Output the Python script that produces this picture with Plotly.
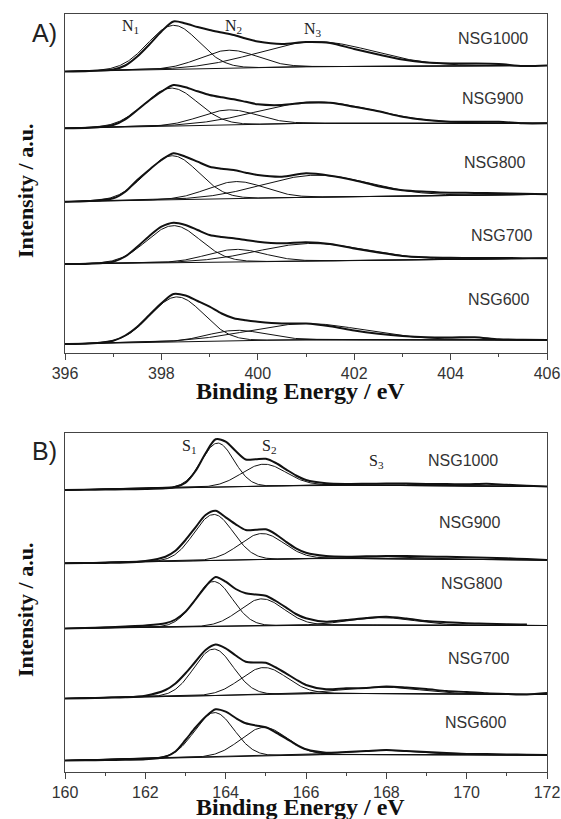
import numpy as np
import plotly.graph_objects as go

# ---------------- data ----------------
samples = ["NSG1000", "NSG900", "NSG800", "NSG700", "NSG600"]

# Panel A: N 1s spectra (intensity in a.u., relative to each spectrum's own zero)
energy_n = [396, 396.5, 397, 397.25, 397.5, 397.75, 398, 398.25, 398.5, 398.75, 399,
            399.25, 399.5, 399.75, 400, 400.5, 401, 401.5, 402, 402.5, 403, 403.5,
            404, 404.5, 405, 405.5, 406]
n_nsg1000 = [0, 0.5, 2, 6, 15, 27, 40, 50, 48, 44.5, 41.5, 39, 36.5, 33, 30, 27.5, 29.5,
             28.5, 22.5, 17, 12, 9, 8, 8, 7.5, 5.5, 6]
n_nsg900 = [0, 0.5, 3.3, 9, 18.3, 28, 36.6, 43.3, 41, 37, 33.3, 31, 29, 26.5, 24, 23.3,
            25.6, 25.5, 21.5, 17, 11.5, 8.3, 6.6, 6.5, 6.5, 5, 5]
n_nsg800 = [0, 0.8, 3.4, 10, 21.7, 32, 41.7, 48.4, 45, 40, 35, 33, 31.7, 29, 26.7, 25,
            28.4, 26, 21.5, 15.5, 11.5, 10, 9, 8.8, 8.4, 8, 7.4]
n_nsg700 = [0, 0.3, 2.3, 7.5, 17.3, 28, 37.3, 41.3, 39, 34, 29, 27, 25.7, 24, 22.3, 20.7,
            21.7, 20, 15.5, 11.5, 8, 6.7, 6.2, 6, 6, 5.8, 5.7]
n_nsg600 = [0, 0.4, 3.3, 8.5, 17.3, 29, 40.7, 50, 48.5, 43, 37.3, 30.5, 25.7, 23.7, 22.3,
            20.5, 20.5, 17.8, 13.5, 10.3, 8, 6.7, 6.5, 6.8, 4.7, 4.3, 4]
n_spectra = [n_nsg1000, n_nsg900, n_nsg800, n_nsg700, n_nsg600]
n_stack = [281.5, 224.7, 151.3, 89, 9]          # vertical stacking offsets

# fitted background (at 396, 401, 406 eV)
n_bg_energy = [396, 401, 406]
n_bg = [[0, 4.8, 6], [0, 5, 5], [0, 4.4, 7.4], [0, 3, 5.7], [0, 4.5, 4]]

# fitted components: centre (eV), height, FWHM  (N1, N2, N3)
n1_center = [398.25, 398.2, 398.22, 398.25, 398.32]
n1_height = [44, 38, 44, 37, 45]
n1_fwhm = [1.25, 1.3, 1.3, 1.3, 1.3]
n2_center = [399.4, 399.4, 399.55, 399.55, 399.55]
n2_height = [18, 15, 17, 12.5, 10.5]
n2_fwhm = [1.4, 1.4, 1.4, 1.4, 1.4]
n3_center = [401.2, 401.2, 401.2, 401.1, 401.0]
n3_height = [25, 21.5, 22, 17.5, 16]
n3_fwhm = [2.8, 2.8, 2.6, 2.6, 2.8]

# Panel B: S 2p spectra
energy_s = [160, 160.5, 161, 161.5, 162, 162.5, 162.75, 163, 163.25, 163.5, 163.75, 164,
            164.25, 164.5, 164.75, 165, 165.25, 165.5, 165.75, 166, 166.5, 167, 167.5,
            168, 168.5, 169, 169.5, 170, 170.5, 171, 171.5, 172]
s_nsg1000 = [0, 0.2, 0.4, 0.7, 1, 1.7, 3, 7.3, 19, 36.7, 50.7, 48.3, 39, 30.5, 30.8, 31.2,
             27, 20.7, 14.5, 10, 6.7, 6, 6.2, 6.5, 6.5, 6, 6, 5.7, 6.2, 5.2, 4.3, 3.5]
s_nsg900 = [0, 0.2, 0.4, 0.7, 2.3, 6.6, 12.5, 23.3, 36, 48.3, 52.5, 46, 39, 33.3, 33.5, 34,
            29, 21.6, 15, 10.6, 7.3, 6.6, 7, 7.3, 7.3, 6.8, 6.5, 6, 5.5, 5, 4.2, 3.3]
s_nsg800 = [0, 0.5, 1.2, 2, 3, 5.2, 9, 16.8, 29, 42, 51.5, 46.8, 39.5, 35.2, 34, 32.8,
            27.5, 21.2, 14.5, 10.2, 6.8, 8.5, 10.5, 11.8, 10, 7.5, 6.2, 5.2, 4.8, 4.2, 4,
            None]
s_nsg700 = [0, 0.3, 0.8, 1.2, 2.8, 8.5, 15, 25.2, 37, 48.5, 54, 50.2, 43, 36.8, 36, 35.8,
            31, 25.2, 19, 13.5, 9.2, 10.2, 10.5, 12, 11, 9.5, 7.5, 6.5, 5.2, 4.5, 4, 5.5]
s_nsg600 = [0, 0.2, 0.4, 0.7, 1.2, 3.8, 9, 20.5, 33, 43.8, 51.2, 48.8, 42.5, 37.2, 35, 33.2,
            28, 22.2, 16, 11.2, 7.8, 8.5, 9.5, 10.5, 9.5, 8.5, 7.5, 6.5, 6.5, 6, 5.8, 5.5]
s_spectra = [s_nsg1000, s_nsg900, s_nsg800, s_nsg700, s_nsg600]
s_stack = [282, 208.7, 143.5, 73.5, 11.5]

s_bg_energy = [160, 166.5, 172]
s_bg = [[0, 5, 3.5], [0, 5, 3.3], [0, 3.5, 3], [0, 5.2, 4], [0, 6, 5.5]]

s1_center = [163.8, 163.7, 163.7, 163.7, 163.72]
s1_height = [44, 46, 45, 46.5, 44.5]
s1_fwhm = [0.95, 1.15, 1.1, 1.15, 1.15]
s2_center = [164.95, 164.9, 164.9, 164.95, 164.95]
s2_height = [22, 26, 27, 27, 28.5]
s2_fwhm = [1.3, 1.3, 1.3, 1.35, 1.35]
s3_center = [168.0, 168.0, 167.9, 167.9, 167.9]
s3_height = [1.5, 2, 7.5, 6.5, 4.5]
s3_fwhm = [2.0, 2.0, 1.9, 2.2, 2.0]

n_ticks = [396, 398, 400, 402, 404, 406]
s_ticks = [160, 162, 164, 166, 168, 170, 172]

# ---------------- figure ----------------
W, H = 561, 819
L, R = 65, 547
A_TOP, A_BOT = 14, 353
B_TOP, B_BOT = 432.7, 772


def py(p):
    return 1 - p / H


def px(p):
    return (p - L) / (R - L)


INK = "#111111"
fig = go.Figure()


def peak(x, c, h, w):
    return h * np.exp(-4 * np.log(2) * (x - c) ** 2 / w ** 2)


def add_panel(xa, ya, energy, spectra, stack, bg_e, bg, comps, lo, hi):
    xf = np.linspace(lo, hi, 601)
    for i in range(len(samples)):
        off = stack[i]
        base = np.interp(xf, bg_e, bg[i])
        # background
        fig.add_trace(go.Scatter(x=bg_e, y=[off + v for v in bg[i]], mode="lines",
                                 line=dict(color=INK, width=1.0), xaxis=xa, yaxis=ya,
                                 hoverinfo="skip", showlegend=False))
        # fitted components
        for (cen, hgt, fw) in comps:
            yc = off + base + peak(xf, cen[i], hgt[i], fw[i])
            fig.add_trace(go.Scatter(x=xf, y=yc, mode="lines",
                                     line=dict(color=INK, width=1.0), xaxis=xa, yaxis=ya,
                                     hoverinfo="skip", showlegend=False))
        # measured spectrum
        yd = [None if v is None else off + v for v in spectra[i]]
        fig.add_trace(go.Scatter(x=energy, y=yd, mode="lines",
                                 line=dict(color=INK, width=2.0, shape="spline",
                                           smoothing=0.8),
                                 xaxis=xa, yaxis=ya, name=samples[i],
                                 showlegend=False, connectgaps=False))


add_panel("x", "y", energy_n, n_spectra, n_stack, n_bg_energy, n_bg,
          [(n1_center, n1_height, n1_fwhm), (n2_center, n2_height, n2_fwhm),
           (n3_center, n3_height, n3_fwhm)], 396, 406)
add_panel("x2", "y2", energy_s, s_spectra, s_stack, s_bg_energy, s_bg,
          [(s1_center, s1_height, s1_fwhm), (s2_center, s2_height, s2_fwhm),
           (s3_center, s3_height, s3_fwhm)], 160, 172)

frame = dict(showline=True, mirror=True, linecolor="#444444", linewidth=1.3,
             showgrid=False, zeroline=False)
xcommon = dict(frame, ticks="outside", ticklen=6, tickwidth=1.2, tickcolor="#444444",
               tickfont=dict(family="Liberation Sans, Arial", size=16, color="#333333"),
               minor=dict(dtick=1, ticks="outside", ticklen=3, tickwidth=1.1,
                          tickcolor="#444444"))
ycommon = dict(frame, showticklabels=False, ticks="")

fig.update_layout(
    width=W, height=H, margin=dict(l=L, r=W - R, t=0, b=0),
    paper_bgcolor="white", plot_bgcolor="white", showlegend=False,
    xaxis=dict(xcommon, domain=[0, 1], anchor="y", range=[396, 406],
               tickvals=n_ticks, ticktext=[str(t) for t in n_ticks]),
    yaxis=dict(ycommon, domain=[py(A_BOT), py(A_TOP)], anchor="x",
               range=[0, A_BOT - A_TOP]),
    xaxis2=dict(xcommon, domain=[0, 1], anchor="y2", range=[160, 172],
                tickvals=s_ticks, ticktext=[str(t) for t in s_ticks]),
    yaxis2=dict(ycommon, domain=[py(B_BOT), py(B_TOP)], anchor="x2",
                range=[0, B_BOT - B_TOP]),
)

ann = []
serif = "Liberation Serif, Times New Roman"
sans = "Liberation Sans, Arial"

# axis titles
for yc in (391, 807):
    ann.append(dict(text="<b>Binding Energy / eV</b>", xref="paper", yref="paper",
                    x=px(300), y=py(yc), showarrow=False, xanchor="center",
                    yanchor="middle", font=dict(family=serif, size=24, color="#111")))
for yc in (191, 610):
    ann.append(dict(text="<b>Intensity / a.u.</b>", xref="paper", yref="paper",
                    x=px(25), y=py(yc), showarrow=False, textangle=-90,
                    xanchor="center", yanchor="middle",
                    font=dict(family=serif, size=22, color="#111")))
# panel letters
ann.append(dict(text="A)", xref="paper", yref="paper", x=px(44), y=py(33),
                showarrow=False, xanchor="center", yanchor="middle",
                font=dict(family=sans, size=25, color="#222")))
ann.append(dict(text="B)", xref="paper", yref="paper", x=px(44), y=py(451),
                showarrow=False, xanchor="center", yanchor="middle",
                font=dict(family=sans, size=25, color="#222")))

# sample labels
n_label_pos = [(404.88, 315), (404.86, 255), (404.92, 191), (405.05, 118), (405.0, 54)]
s_label_pos = [(169.91, 312), (170.06, 250), (170.11, 189), (170.29, 114), (170.21, 50)]
for name, (lx, ly) in zip(samples, n_label_pos):
    ann.append(dict(text=name, xref="x", yref="y", x=lx, y=ly, showarrow=False,
                    font=dict(family=sans, size=16, color="#333")))
for name, (lx, ly) in zip(samples, s_label_pos):
    ann.append(dict(text=name, xref="x2", yref="y2", x=lx, y=ly, showarrow=False,
                    font=dict(family=sans, size=16, color="#333")))

# peak labels
for t, lx, ly in [("N<sub>1</sub>", 397.35, 327), ("N<sub>2</sub>", 399.5, 327),
                  ("N<sub>3</sub>", 401.15, 324)]:
    ann.append(dict(text=t, xref="x", yref="y", x=lx, y=ly, showarrow=False,
                    font=dict(family=serif, size=16, color="#222")))
for t, lx, ly in [("S<sub>1</sub>", 163.1, 326), ("S<sub>2</sub>", 165.1, 326),
                  ("S<sub>3</sub>", 167.75, 311)]:
    ann.append(dict(text=t, xref="x2", yref="y2", x=lx, y=ly, showarrow=False,
                    font=dict(family=serif, size=16, color="#222")))

fig.update_layout(annotations=ann)
fig.write_html("out.html", config={"displayModeBar": False},
               post_script="document.body.style.margin='0px';"
                           "document.body.style.overflow='hidden';")
